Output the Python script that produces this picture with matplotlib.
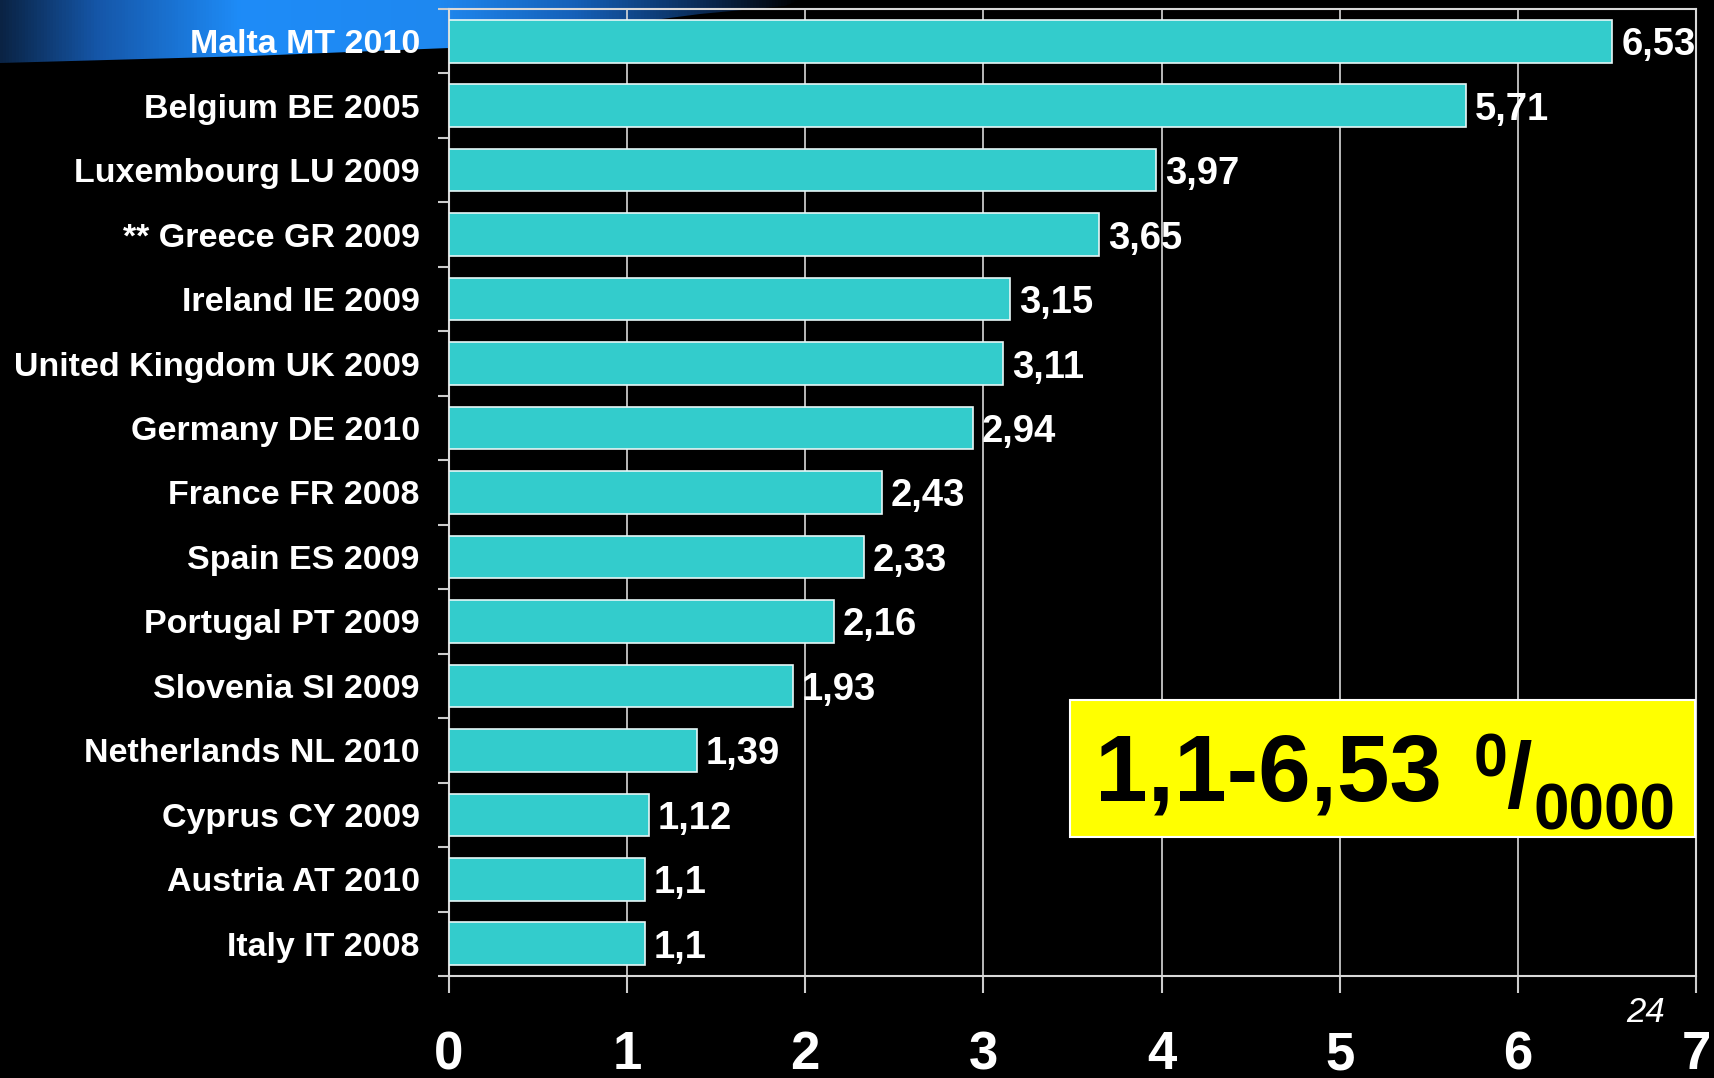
import numpy as np
import matplotlib
matplotlib.use("Agg")
import matplotlib.pyplot as plt
from matplotlib.patches import Polygon, Rectangle
from matplotlib.colors import LinearSegmentedColormap

plt.rcParams["font.family"] = ["Liberation Sans", "DejaVu Sans"]

# ── Datos ──
etiquetas = [
    "Malta MT 2010", "Belgium BE 2005", "Luxembourg LU 2009", "** Greece GR 2009",
    "Ireland IE 2009", "United Kingdom UK 2009", "Germany DE 2010", "France FR 2008",
    "Spain ES 2009", "Portugal PT 2009", "Slovenia SI 2009", "Netherlands NL 2010",
    "Cyprus CY 2009", "Austria AT 2010", "Italy IT 2008",
]
valores = [6.53, 5.71, 3.97, 3.65, 3.15, 3.11, 2.94, 2.43, 2.33, 2.16, 1.93, 1.39, 1.12, 1.1, 1.1]
textos_valor = ["6,53", "5,71", "3,97", "3,65", "3,15", "3,11", "2,94", "2,43",
                "2,33", "2,16", "1,93", "1,39", "1,12", "1,1", "1,1"]
ticks_x = [0, 1, 2, 3, 4, 5, 6, 7]
rango_txt = "1,1-6,53"
num_pagina = "24"

W, H = 1714, 1078
fig = plt.figure(figsize=(W / 100, H / 100), dpi=100, facecolor="black")

# ── Fondo: barrido azul arriba a la izquierda ──
bg = fig.add_axes([0, 0, 1, 1], zorder=0)
bg.set_xlim(0, W)
bg.set_ylim(H, 0)
bg.axis("off")
cmap = LinearSegmentedColormap.from_list(
    "swoosh",
    [(0.0, "#0a2344"), (0.12, "#1556a8"), (0.3, "#1e8cf8"), (0.55, "#1f88f0"),
     (0.72, "#1560b8"), (0.88, "#0a2a55"), (1.0, "#000000")],
)
grad = np.linspace(0, 1, 256)[None, :]
im = bg.imshow(grad, cmap=cmap, extent=(0, 800, 70, 0), aspect="auto")
swoosh = Polygon([(0, 0), (800, 0), (785, 6), (700, 14), (600, 27), (449, 48),
                  (250, 56), (0, 63)], closed=True, transform=bg.transData,
                 facecolor="none", edgecolor="none")
bg.add_patch(swoosh)
im.set_clip_path(swoosh)

# ── Ejes principales ──
ax = fig.add_axes([449 / W, 1 - 976 / H, (1696 - 449) / W, (976 - 9) / H], zorder=1)
ax.set_facecolor("none")

ypos = np.arange(len(valores))
ax.barh(ypos, valores, height=0.66, color="#33CCCC", edgecolor="#e6f7f7",
        linewidth=1.2, zorder=3)
for y, v, t in zip(ypos, valores, textos_valor):
    ax.text(v + 0.05, y, t, ha="left", va="center_baseline", fontsize=27.5,
            fontweight="bold", color="white", zorder=4)

ax.set_xlim(0, 7)
ax.set_ylim(len(valores) - 0.5, -0.5)
ax.set_xticks(ticks_x)
ax.set_xticklabels([str(t) for t in ticks_x], fontsize=38, fontweight="bold", color="white")
ax.tick_params(axis="x", length=12, width=1.5, color="#cccccc", pad=27)
ax.set_yticks(ypos)
ax.set_yticklabels(etiquetas, fontsize=24.5, fontweight="bold", color="white")
ax.tick_params(axis="y", which="major", length=0, pad=21)
ax.set_yticks(np.arange(-0.5, len(valores), 1), minor=True)
ax.tick_params(axis="y", which="minor", length=8, width=1.5, color="#cccccc")

ax.grid(axis="x", color="#d9d9d9", linewidth=1.2, zorder=1)
ax.set_axisbelow(True)
for s in ax.spines.values():
    s.set_color("#d9d9d9")
    s.set_linewidth(1.5)

# ── Recuadro amarillo con el rango ──
ax.add_patch(Rectangle((0.498, 0.144), 0.501, 0.141, transform=ax.transAxes,
                       facecolor="#FFFF00", edgecolor="white", linewidth=1.5, zorder=5))
ax.text(0.518, 0.181, rango_txt, transform=ax.transAxes, ha="left", va="baseline",
        fontsize=68, fontweight="bold", color="black", zorder=6)
ax.text(0.822, 0.2058, "0", transform=ax.transAxes, ha="left", va="baseline",
        fontsize=44, fontweight="bold", color="black", zorder=6)
ax.text(0.848, 0.1748, "/", transform=ax.transAxes, ha="left", va="baseline",
        fontsize=66, fontweight="bold", color="black", zorder=6)
ax.text(0.870, 0.151, "0000", transform=ax.transAxes, ha="left", va="baseline",
        fontsize=46, fontweight="bold", color="black", zorder=6)

fig.text(0.960, 0.061, num_pagina, ha="center", va="center", fontsize=25,
         style="italic", color="white")

fig.savefig("out.png", dpi=100, facecolor="black")
